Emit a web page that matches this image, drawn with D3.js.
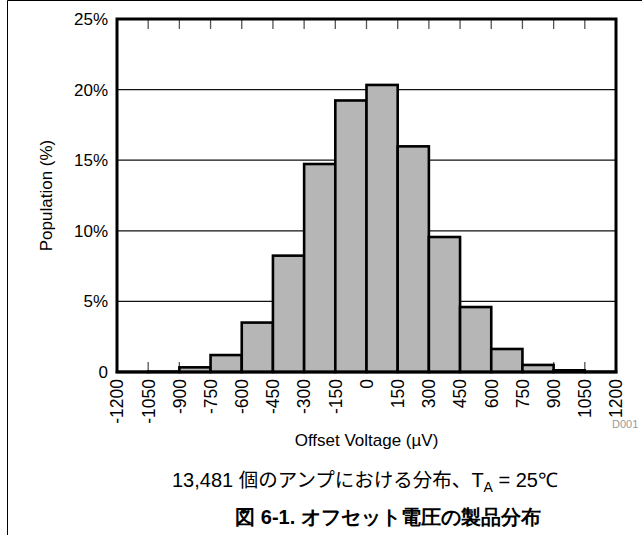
<!DOCTYPE html>
<html><head><meta charset="utf-8">
<script src="https://cdn.jsdelivr.net/npm/d3@7"></script>
<style>
html,body{margin:0;padding:0;background:#fff;}
svg{display:block;}
text{font-family:"Liberation Sans",Arial,sans-serif;}
</style></head>
<body>
<svg id="c" width="642" height="535"></svg>
<script>
const binStarts = [-1200,-1050,-900,-750,-600,-450,-300,-150,0,150,300,450,600,750,900,1050];
const binWidth = 150;
const population = [0.01,0.03,0.33,1.2,3.5,8.24,14.73,19.23,20.33,15.98,9.56,4.6,1.63,0.5,0.12,0.02];
const xTicks = [-1200,-1050,-900,-750,-600,-450,-300,-150,0,150,300,450,600,750,900,1050,1200];
const yTicks = [0,5,10,15,20,25];
const yTickLabels = ["0","5%","10%","15%","20%","25%"];
const xTitle = "Offset Voltage (\u00B5V)";
const yTitle = "Population (%)";
const caption = "図 6-1. オフセット電圧の製品分布";

const svg = d3.select("#c");
const L=117,R=616,T=19,B=372;
const x = d3.scaleLinear().domain([-1200,1200]).range([L,R]);
const y = d3.scaleLinear().domain([0,25]).range([B,T]);

// outer frame
svg.append("path").attr("d","M7.5,535 V0.5 H642").attr("fill","none").attr("stroke","#000").attr("stroke-width",1);

// gridlines
svg.append("g").selectAll("line").data(yTicks.slice(1,-1)).join("line")
  .attr("x1",L).attr("x2",R).attr("y1",d=>y(d)).attr("y2",d=>y(d))
  .attr("stroke","#111").attr("stroke-width",1.2);

// bottom & top ticks
const inner = xTicks.slice(1,-1);
svg.append("g").selectAll("line").data(inner).join("line")
  .attr("x1",d=>x(d)).attr("x2",d=>x(d)).attr("y1",B).attr("y2",B-10)
  .attr("stroke","#555").attr("stroke-width",1.3);
svg.append("g").selectAll("line").data(inner).join("line")
  .attr("x1",d=>x(d)).attr("x2",d=>x(d)).attr("y1",T).attr("y2",T+10)
  .attr("stroke","#555").attr("stroke-width",1.3);

// bars
svg.append("g").selectAll("rect").data(binStarts).join("rect")
  .attr("x",d=>x(d)).attr("width",d=>x(d+binWidth)-x(d))
  .attr("y",(d,i)=>y(population[i])).attr("height",(d,i)=>B-y(population[i]))
  .attr("fill","#b6b6b6").attr("stroke","#000").attr("stroke-width",2.6);

// plot frame
svg.append("rect").attr("x",L).attr("y",T).attr("width",R-L).attr("height",B-T)
  .attr("fill","none").attr("stroke","#000").attr("stroke-width",3);

// y labels
svg.append("g").selectAll("text").data(yTicks).join("text")
  .attr("x",108).attr("y",d=>y(d)).attr("dy","0.35em").attr("text-anchor","end")
  .attr("font-size",17).text((d,i)=>yTickLabels[i]);

// x labels
svg.append("g").selectAll("text").data(xTicks).join("text")
  .attr("transform",d=>`translate(${x(d)},379) rotate(-90)`)
  .attr("dy","0.36em").attr("text-anchor","end").attr("font-size",17.5)
  .text(d=>String(d));

// D001
svg.append("text").attr("x",612).attr("y",428).attr("font-size",11).attr("fill","#999").text("D001");

// axis titles
svg.append("text").attr("x",(L+R)/2).attr("y",446).attr("text-anchor","middle").attr("font-size",17).text(xTitle);
svg.append("text").attr("transform","translate(52,"+((T+B)/2)+") rotate(-90)")
  .attr("text-anchor","middle").attr("font-size",17).text(yTitle);

// subtitle
const sub = svg.append("text").attr("x",365).attr("y",487).attr("text-anchor","middle").attr("font-size",20);
sub.append("tspan").text("13,481 ");
sub.append("tspan").attr("font-family","'Noto Sans CJK JP'").attr("font-size",19.5).text("個のアンプにおける分布、");
sub.append("tspan").text("T");
sub.append("tspan").attr("font-size",14).attr("dy",5).text("A");
sub.append("tspan").attr("dy",-5).text(" = 25℃");

// caption
svg.append("text").attr("x",388).attr("y",524).attr("text-anchor","middle")
  .attr("font-family","'Noto Sans CJK JP',sans-serif").attr("font-weight","bold").attr("font-size",20)
  .text(caption);
</script>
</body></html>
